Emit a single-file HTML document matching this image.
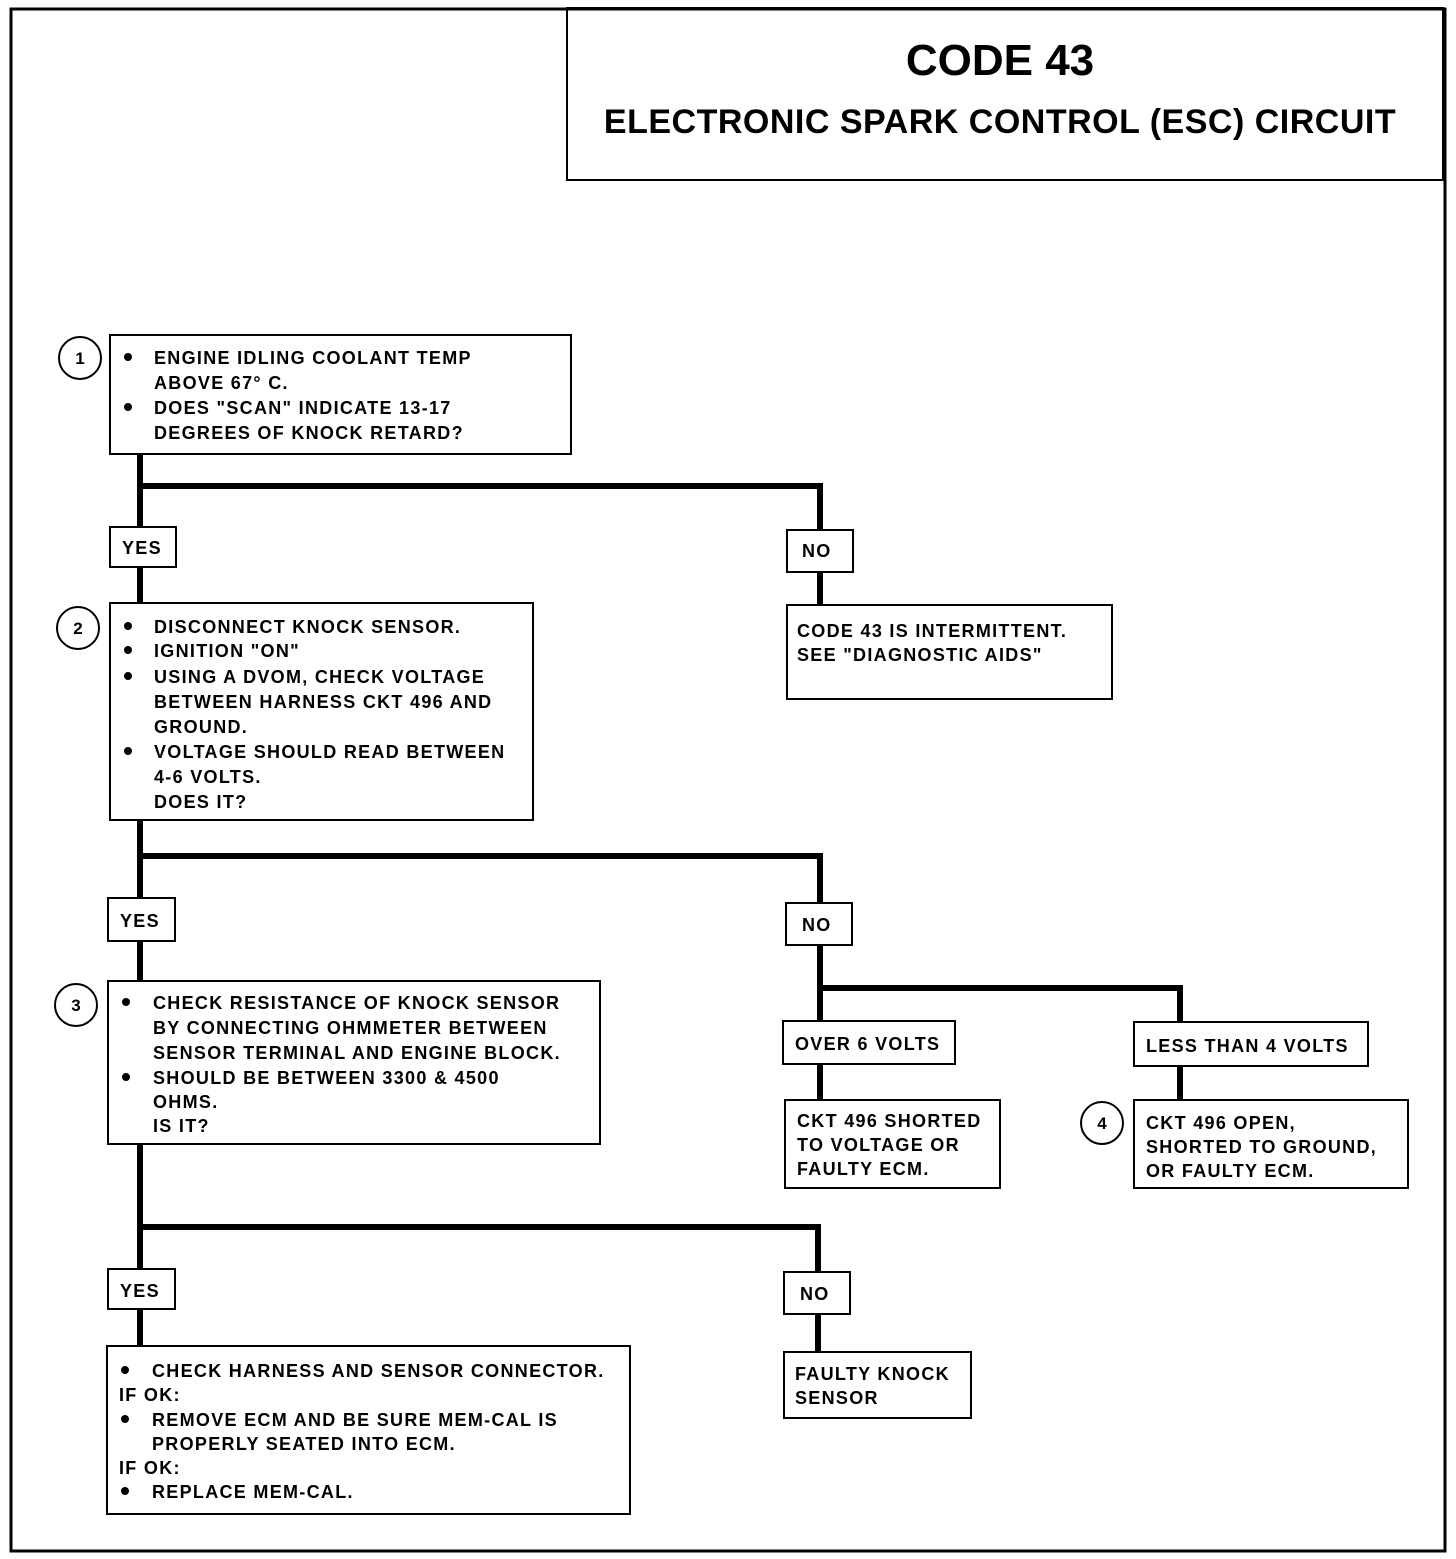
<!DOCTYPE html>
<html><head><meta charset="utf-8"><style>
html,body{margin:0;padding:0;background:#fff}
svg text{font-family:"Liberation Sans",Arial,sans-serif;font-weight:bold;fill:#000}
.t{font-size:18px;letter-spacing:1.3px}
</style></head><body>
<svg width="1456" height="1554" viewBox="0 0 1456 1554" xmlns="http://www.w3.org/2000/svg">
<rect x="11" y="9" width="1434" height="1542" fill="none" stroke="#000" stroke-width="3"/>
<rect x="567" y="8" width="876" height="172" fill="none" stroke="#000" stroke-width="2"/>
<text x="1000" y="75" font-size="44" text-anchor="middle">CODE 43</text>
<text x="1000" y="133" font-size="34" text-anchor="middle" letter-spacing="0.5">ELECTRONIC SPARK CONTROL (ESC) CIRCUIT</text>

<g stroke="#000" stroke-width="6" fill="none">
<path d="M140 454V1346"/>
<path d="M140 486H820V605"/>
<path d="M140 856H820V1100"/>
<path d="M820 988H1180V1100"/>
<path d="M140 1227H818V1352"/>
</g>

<g fill="#fff" stroke="#000" stroke-width="2">
<rect x="110" y="335" width="461" height="119"/>
<rect x="110" y="527" width="66" height="40"/>
<rect x="787" y="530" width="66" height="42"/>
<rect x="787" y="605" width="325" height="94"/>
<rect x="110" y="603" width="423" height="217"/>
<rect x="108" y="898" width="67" height="43"/>
<rect x="786" y="903" width="66" height="42"/>
<rect x="783" y="1021" width="172" height="43"/>
<rect x="1134" y="1022" width="234" height="44"/>
<rect x="785" y="1100" width="215" height="88"/>
<rect x="1134" y="1100" width="274" height="88"/>
<rect x="108" y="981" width="492" height="163"/>
<rect x="108" y="1269" width="67" height="40"/>
<rect x="784" y="1272" width="66" height="42"/>
<rect x="784" y="1352" width="187" height="66"/>
<rect x="107" y="1346" width="523" height="168"/>
<circle cx="80" cy="358" r="21"/>
<circle cx="78" cy="628" r="21"/>
<circle cx="76" cy="1005" r="21"/>
<circle cx="1102" cy="1123" r="21"/>
</g>
<g font-size="17" text-anchor="middle">
<text x="80" y="364">1</text><text x="78" y="634">2</text><text x="76" y="1011">3</text><text x="1102" y="1129">4</text>
</g>

<g fill="#000">
<circle cx="128" cy="357" r="4"/><circle cx="128" cy="407" r="4"/>
<circle cx="128" cy="626" r="4"/><circle cx="128" cy="650" r="4"/><circle cx="128" cy="676" r="4"/><circle cx="128" cy="751" r="4"/>
<circle cx="126" cy="1002" r="4"/><circle cx="126" cy="1077" r="4"/>
<circle cx="125" cy="1370" r="4"/><circle cx="125" cy="1419" r="4"/><circle cx="125" cy="1491" r="4"/>
</g>

<g class="t">
<text x="154" y="364">ENGINE IDLING COOLANT TEMP</text>
<text x="154" y="389">ABOVE 67° C.</text>
<text x="154" y="414">DOES "SCAN" INDICATE 13-17</text>
<text x="154" y="439">DEGREES OF KNOCK RETARD?</text>

<text x="122" y="554">YES</text>
<text x="802" y="557">NO</text>
<text x="797" y="637">CODE 43 IS INTERMITTENT.</text>
<text x="797" y="661">SEE "DIAGNOSTIC AIDS"</text>

<text x="154" y="633">DISCONNECT KNOCK SENSOR.</text>
<text x="154" y="657">IGNITION "ON"</text>
<text x="154" y="683">USING A DVOM, CHECK VOLTAGE</text>
<text x="154" y="708">BETWEEN HARNESS CKT 496 AND</text>
<text x="154" y="733">GROUND.</text>
<text x="154" y="758">VOLTAGE SHOULD READ BETWEEN</text>
<text x="154" y="783">4-6 VOLTS.</text>
<text x="154" y="808">DOES IT?</text>

<text x="120" y="927">YES</text>
<text x="802" y="931">NO</text>
<text x="795" y="1050">OVER 6 VOLTS</text>
<text x="1146" y="1052">LESS THAN 4 VOLTS</text>
<text x="797" y="1127">CKT 496 SHORTED</text>
<text x="797" y="1151">TO VOLTAGE OR</text>
<text x="797" y="1175">FAULTY ECM.</text>
<text x="1146" y="1129">CKT 496 OPEN,</text>
<text x="1146" y="1153">SHORTED TO GROUND,</text>
<text x="1146" y="1177">OR FAULTY ECM.</text>

<text x="153" y="1009">CHECK RESISTANCE OF KNOCK SENSOR</text>
<text x="153" y="1034">BY CONNECTING OHMMETER BETWEEN</text>
<text x="153" y="1059">SENSOR TERMINAL AND ENGINE BLOCK.</text>
<text x="153" y="1084">SHOULD BE BETWEEN 3300 &amp; 4500</text>
<text x="153" y="1108">OHMS.</text>
<text x="153" y="1132">IS IT?</text>

<text x="120" y="1297">YES</text>
<text x="800" y="1300">NO</text>
<text x="795" y="1380">FAULTY KNOCK</text>
<text x="795" y="1404">SENSOR</text>

<text x="152" y="1377">CHECK HARNESS AND SENSOR CONNECTOR.</text>
<text x="119" y="1401">IF OK:</text>
<text x="152" y="1426">REMOVE ECM AND BE SURE MEM-CAL IS</text>
<text x="152" y="1450">PROPERLY SEATED INTO ECM.</text>
<text x="119" y="1474">IF OK:</text>
<text x="152" y="1498">REPLACE MEM-CAL.</text>
</g>
</svg>
</body></html>
